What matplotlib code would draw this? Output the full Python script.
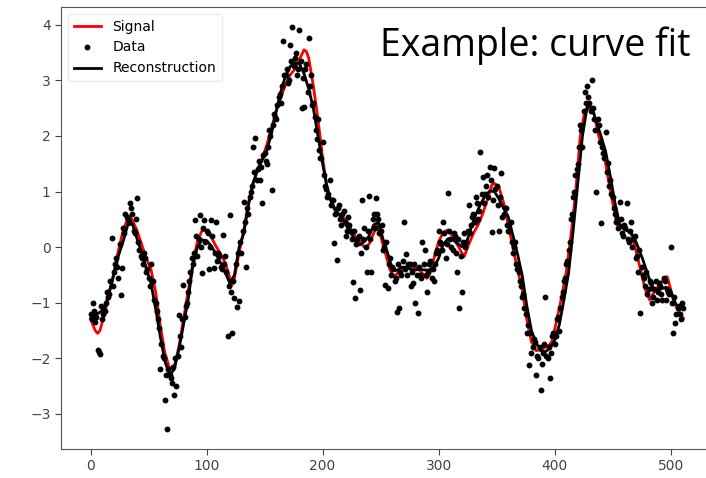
import matplotlib
matplotlib.use("Agg")
import matplotlib.pyplot as plt
import numpy as np

# red "true" signal, read at key points
sig_x = [0, 4, 6, 8, 12, 16, 20, 24, 28, 32, 34, 36, 40, 44, 48, 52, 56, 60, 64, 68,
         72, 76, 80, 84, 88, 92, 96, 100, 104, 108, 112, 116, 120, 122, 124, 128, 132, 136, 140, 144,
         148, 152, 156, 160, 164, 168, 172, 176, 180, 184, 186, 188, 190, 192, 196, 200, 204, 208, 212, 216,
         220, 224, 228, 232, 236, 240, 244, 247, 250, 254, 258, 261, 264, 268, 272, 276, 280, 284, 288, 290,
         292, 296, 300, 304, 308, 312, 316, 320, 322, 326, 330, 334, 338, 342, 346, 348, 352, 356, 360, 364,
         368, 372, 376, 380, 384, 388, 392, 396, 398, 402, 406, 410, 414, 418, 422, 426, 428, 432, 434, 438,
         442, 446, 450, 454, 458, 462, 466, 470, 474, 478, 482, 486, 490, 494, 497, 500, 503, 507, 511]
sig_y = [-1.3, -1.5, -1.55, -1.5, -1.2, -0.85, -0.45, -0.05, 0.3, 0.52, 0.55, 0.48, 0.3, 0.05, -0.2, -0.4, -0.8, -1.4, -1.9, -2.18,
         -2.15, -1.8, -1.3, -0.8, -0.3, 0.1, 0.3, 0.3, 0.18, 0.02, -0.12, -0.28, -0.55, -0.68, -0.55, -0.1, 0.3, 0.8, 1.15, 1.4,
         1.6, 1.85, 2.15, 2.45, 2.7, 2.92, 3.1, 3.2, 3.38, 3.55, 3.52, 3.4, 3.15, 2.9, 2.3, 1.6, 1.05, 0.78, 0.6, 0.55,
         0.5, 0.35, 0.2, 0.1, 0.0, 0.05, 0.25, 0.4, 0.2, -0.1, -0.4, -0.53, -0.48, -0.4, -0.35, -0.35, -0.37, -0.42, -0.52, -0.56,
         -0.5, -0.2, 0.1, 0.27, 0.31, 0.2, 0.05, -0.1, -0.17, 0.05, 0.25, 0.4, 0.6, 0.85, 1.12, 1.15, 1.08, 0.8, 0.4, 0.0,
         -0.4, -0.75, -1.3, -1.7, -1.86, -1.85, -1.8, -1.75, -1.67, -1.3, -0.9, -0.45, 0.2, 0.95, 1.98, 2.45, 2.5, 2.45, 2.4, 2.0,
         1.75, 1.25, 0.8, 0.4, 0.35, 0.32, 0.25, -0.05, -0.4, -0.75, -0.95, -0.8, -0.68, -0.58, -0.53, -0.75, -1.0, -1.15, -1.28]

# black reconstruction, every 4 samples
rec_x = np.arange(0, 512, 4)
rec_y = [-1.28, -1.22, -1.17, -1.1, -0.8, -0.5, -0.15, 0.1, 0.4, 0.42, 0.15, -0.1, -0.38, -0.65, -1.1, -1.6,
         -2.05, -2.3, -2.2, -1.85, -1.4, -0.95, -0.35, 0.0, 0.13, 0.12, 0.02, -0.12, -0.28, -0.45, -0.65, -0.5,
         0.0, 0.25, 0.75, 1.15, 1.39, 1.57, 1.75, 2.05, 2.45, 2.8, 3.08, 3.25, 3.32, 3.3, 3.12, 2.85,
         2.5, 2.0, 1.5, 1.05, 0.79, 0.64, 0.55, 0.4, 0.27, 0.12, 0.04, 0.1, 0.2, 0.4, 0.45, 0.15,
         -0.1, -0.4, -0.42, -0.36, -0.36, -0.4, -0.41, -0.4, -0.41, -0.41, -0.36, -0.2, 0.05, 0.15, 0.14, 0.07,
         0.01, 0.08, 0.35, 0.58, 0.77, 0.92, 1.01, 1.0, 0.87, 0.7, 0.55, 0.22, -0.12, -0.5, -1.05, -1.5,
         -1.72, -1.86, -1.88, -1.82, -1.68, -1.4, -0.95, -0.47, 0.3, 1.15, 2.0, 2.52, 2.52, 2.25, 2.0, 1.72,
         1.28, 0.8, 0.42, 0.32, 0.28, 0.2, 0.0, -0.22, -0.47, -0.71, -0.77, -0.75, -0.72, -0.78, -1.0, -1.12]

# noisy samples at even indices
even_x = np.arange(0, 512, 2)
even_y = [-1.2, -1.0, -1.35, -1.85, -1.92, -1.3, -1.15, -0.8, -0.85, 0.16, -0.45, -0.2, -0.55, -0.86, 0.35, 0.6,
          0.5, 0.8, 0.6, 0.25, 0.88, -0.05, -0.2, -0.1, -0.45, -0.55, -0.3, -0.6, -1.0, -1.3, -2.2, -1.95,
          -2.75, -3.27, -2.3, -2.45, -2.66, -2.5, -1.22, -1.8, -0.68, -1.05, -0.8, -0.45, -0.3, 0.49, -0.15, 0.58,
          -0.47, 0.49, 0.3, -0.4, 0.49, -0.38, 0.45, -0.1, -0.35, 0.22, -0.15, -1.6, 0.58, -1.55, -0.92, -1.07,
          -0.96, -0.1, 0.82, -0.35, 0.6, 1.0, 1.8, 1.96, 1.4, 1.2, 0.79, 1.7, 1.5, 2.1, 1.03, 2.4,
          2.3, 2.7, 2.6, 3.7, 3.1, 2.95, 3.63, 3.96, 3.4, 3.1, 3.9, 2.5, 2.52, 3.3, 3.76, 3.1,
          2.6, 2.1, 2.3, 1.6, 1.9, 1.1, 0.9, 1.2, 0.85, 0.07, -0.23, 0.75, 0.4, 0.65, 0.2, 0.55,
          0.3, -0.63, -0.92, 0.15, -0.77, 0.85, 0.35, -0.45, 0.92, -0.45, 0.6, 0.88, 0.5, 0.3, -0.05, -0.68,
          -0.74, -0.2, -0.35, -0.6, -1.17, -1.1, -0.5, 0.46, -0.12, -0.3, -0.7, -0.65, -1.0, -1.19, -0.5, 0.1,
          -0.05, -0.8, -0.3, -0.55, -0.6, -0.1, 0.3, 0.05, 0.45, -0.2, 0.97, 0.15, -0.05, 0.2, -0.45, -1.1,
          -0.8, 0.25, 0.1, 0.75, 0.4, 0.6, 0.9, 0.5, 1.72, 1.27, 0.95, 1.3, 1.45, 0.27, 1.42, 1.1,
          0.3, 1.33, 0.6, 0.7, 0.3, 0.45, -0.1, 0.1, -0.4, -0.6, -0.9, -1.1, -1.55, -2.12, -1.9, -1.65,
          -2.3, -2.0, -2.57, -1.9, -0.89, -2.0, -2.36, -1.6, -1.75, -1.3, -1.5, -0.9, -0.6, -0.3, -0.05, 0.5,
          0.9, 1.3, 1.5, 2.2, 1.8, 2.8, 2.9, 2.6, 3.0, 2.3, 1.0, 2.2, 0.43, 1.7, 2.08, 1.51,
          1.2, 0.9, 0.6, 0.5, 0.82, 0.25, 0.4, 0.8, 0.1, 0.45, 0.15, -0.2, -0.45, -1.19, -0.5, -0.7,
          -0.85, -0.6, -1.0, -0.75, -0.95, -0.65, -0.85, -0.55, -0.95, -0.8, 0.0, -1.55, -1.37, -1.1, -1.2, -1.0]

# noisy samples at odd indices
odd_x = np.arange(1, 512, 2)
odd_y = [-1.3, -1.15, -1.25, -1.88, -1.05, -1.2, -1.0, -0.9, -0.6, -0.7, -0.3, -0.35, 0.05, -0.38, 0.25, 0.55,
         0.45, 0.7, 0.3, 0.5, 0.1, -0.15, -0.3, -0.2, -0.4, -0.7, -0.6, -0.95, -1.15, -1.45, -1.75, -2.0,
         -2.3, -2.2, -2.35, -2.15, -2.0, -1.95, -1.6, -1.3, -1.25, -1.0, -0.6, -0.2, -0.1, 0.2, 0.15, 0.0,
         0.35, 0.1, 0.25, 0.0, 0.2, -0.1, -0.25, -0.15, -0.4, -0.3, -0.45, -0.7, -0.8, -0.6, -0.3, -0.1,
         0.1, 0.3, 0.45, 0.7, 0.9, 1.1, 1.35, 1.2, 1.55, 1.45, 1.65, 1.55, 1.8, 2.0, 2.2, 2.35,
         2.55, 2.75, 2.9, 3.1, 3.2, 3.0, 3.35, 3.25, 3.5, 3.2, 3.35, 3.05, 3.2, 2.8, 2.9, 2.55,
         2.35, 1.95, 1.75, 1.6, 1.3, 1.05, 0.95, 0.75, 0.85, 0.6, 0.7, 0.5, 0.6, 0.45, 0.3, 0.4,
         0.15, 0.3, 0.05, 0.2, -0.1, 0.15, 0.0, 0.3, 0.15, 0.5, 0.35, 0.6, 0.25, 0.4, 0.0, 0.1,
         -0.3, -0.5, -0.4, -0.55, -0.3, -0.45, -0.25, -0.4, -0.5, -0.3, -0.45, -0.3, -0.5, -0.35, -0.55, -0.3,
         -0.5, -0.45, -0.25, -0.4, -0.3, -0.05, 0.1, -0.05, 0.25, 0.05, 0.3, 0.0, 0.25, -0.1, 0.15, -0.15,
         0.1, 0.0, 0.3, 0.25, 0.55, 0.45, 0.8, 0.65, 0.95, 0.8, 1.1, 0.9, 1.2, 0.85, 1.05, 0.75,
         0.9, 0.55, 0.7, 0.4, 0.3, 0.1, 0.0, -0.3, -0.45, -0.7, -0.85, -1.2, -1.4, -1.55, -1.8, -1.7,
         -1.95, -1.8, -2.1, -1.75, -1.95, -1.8, -1.9, -1.55, -1.6, -1.25, -1.1, -0.8, -0.55, -0.25, 0.1, 0.6,
         1.0, 1.4, 1.8, 2.1, 2.45, 2.6, 2.7, 2.45, 2.5, 2.1, 2.3, 1.9, 1.8, 1.6, 1.35, 1.1,
         0.95, 0.7, 0.45, 0.35, 0.5, 0.2, 0.35, 0.15, 0.3, 0.0, 0.2, -0.15, -0.05, -0.35, -0.55, -0.45,
         -0.75, -0.65, -0.9, -0.6, -0.8, -0.7, -0.95, -0.6, -0.75, -0.85, -1.0, -0.9, -1.2, -1.05, -1.3, -1.1]

data_x = np.concatenate([even_x, odd_x])
data_y = np.concatenate([even_y, odd_y])

fig = plt.figure(figsize=(7.06, 4.78), dpi=100)
ax = fig.add_axes([61/706, 29/478, 652/706, 442/478])

ax.plot(sig_x, sig_y, color='red', lw=2, label='Signal')
ax.plot(data_x, data_y, 'o', color='black', markersize=3.2, label='Data')
ax.plot(rec_x, rec_y, color='black', lw=2, label='Reconstruction')

ax.set_xlim(-25.55, 536.55)
ax.set_ylim(-3.63, 4.32)
ax.set_xticks([0, 100, 200, 300, 400, 500])
ax.set_yticks([-3, -2, -1, 0, 1, 2, 3, 4])
ax.tick_params(labelsize=10, labelcolor='#444444', color='#444444', length=4)
for s in ax.spines.values():
    s.set_color('#555555')
# the reference screenshot is cut before the right edge of the axes
ax.spines['right'].set_visible(False)

leg = ax.legend(loc='upper left', fontsize=10)
leg.get_frame().set_edgecolor('#e6e6e6')

fig.text(690/706, 1 - 46/478, 'Example: curve fit', ha='right', va='center',
         fontsize=27, family='Open Sans', color='black')

fig.savefig('out.png', dpi=100)
